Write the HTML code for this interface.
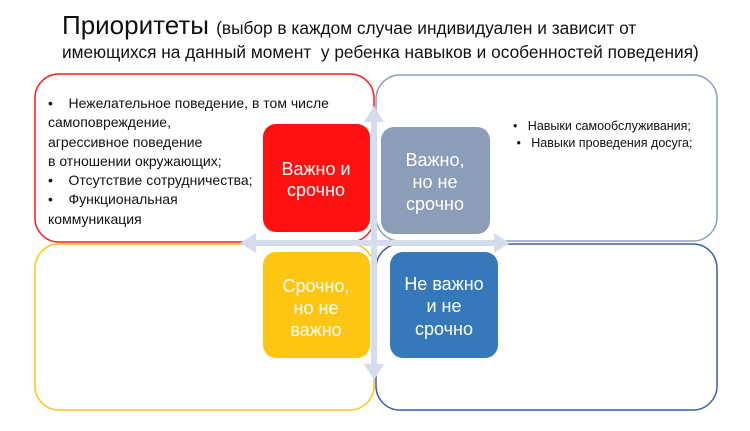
<!DOCTYPE html>
<html><head><meta charset="utf-8"><style>
html,body{margin:0;padding:0;background:#fff;}
body{width:750px;height:431px;overflow:hidden;position:relative;font-family:"Liberation Sans","DejaVu Sans",sans-serif;}
.t{position:absolute;white-space:nowrap;color:#111;}
</style></head><body>
<svg width="750" height="431" style="position:absolute;left:0;top:0" font-family="Liberation Sans, DejaVu Sans, sans-serif">
<rect x="35" y="74" width="339" height="168" rx="24" fill="#fff" stroke="#ff1a1a" stroke-width="1.5"/>
<rect x="376" y="75" width="341" height="166" rx="24" fill="#fff" stroke="#8d9fc0" stroke-width="1.5"/>
<rect x="35" y="244" width="339" height="166" rx="24" fill="#fff" stroke="#fdc414" stroke-width="1.5"/>
<rect x="376" y="244" width="341" height="166" rx="24" fill="#fff" stroke="#3a5ea8" stroke-width="1.5"/>
<rect x="371" y="118" width="6" height="250" fill="#d5dcec"/>
<polygon points="364,122 374,106 384,122" fill="#d5dcec"/>
<polygon points="364,364 374,380 384,364" fill="#d5dcec"/>
<rect x="252" y="240" width="246" height="6" fill="#d5dcec"/>
<polygon points="256,233 240,243 256,253" fill="#d5dcec"/>
<polygon points="494,233 510,243 494,253" fill="#d5dcec"/>
<rect x="263" y="124" width="107" height="108" rx="13" fill="#ff1111"/>
<rect x="381" y="127" width="109" height="107" rx="13" fill="#8b9db7"/>
<rect x="263" y="252" width="107" height="106" rx="13" fill="#fec513"/>
<rect x="390" y="252" width="108" height="106" rx="13" fill="#3579ba"/>
<g fill="#fff" font-size="18" text-anchor="middle">
<text x="316" y="175">Важно и</text><text x="316" y="196">срочно</text>
<text x="435" y="166">Важно,</text><text x="435" y="188">но не</text><text x="435" y="210">срочно</text>
<text x="316" y="292">Срочно,</text><text x="316" y="314">но не</text><text x="316" y="336">важно</text>
<text x="444" y="290">Не важно</text><text x="444" y="312">и не</text><text x="444" y="335">срочно</text>
</g>
</svg>
<div class="t" style="left:62px;top:10px;font-size:26px;">Приоритеты <span style="font-size:17.3px">(выбор в каждом случае индивидуален и зависит от</span></div>
<div class="t" style="left:62px;top:42px;font-size:17.3px;">имеющихся на данный момент&nbsp; у ребенка навыков и особенностей поведения)</div>
<div class="t" style="left:48px;top:94px;font-size:14px;line-height:19.3px;">
•&nbsp;&nbsp;&nbsp;&nbsp;Нежелательное поведение, в том числе<br>самоповреждение,<br>агрессивное поведение<br>в отношении окружающих;<br>•&nbsp;&nbsp;&nbsp;&nbsp;Отсутствие сотрудничества;<br>•&nbsp;&nbsp;&nbsp;&nbsp;Функциональная<br>коммуникация</div>
<div class="t" style="left:513px;top:118px;font-size:12.5px;line-height:17px;">•&nbsp;&nbsp;&nbsp;Навыки самообслуживания;<br>&nbsp;•&nbsp;&nbsp;&nbsp;Навыки проведения досуга;</div>
</body></html>
